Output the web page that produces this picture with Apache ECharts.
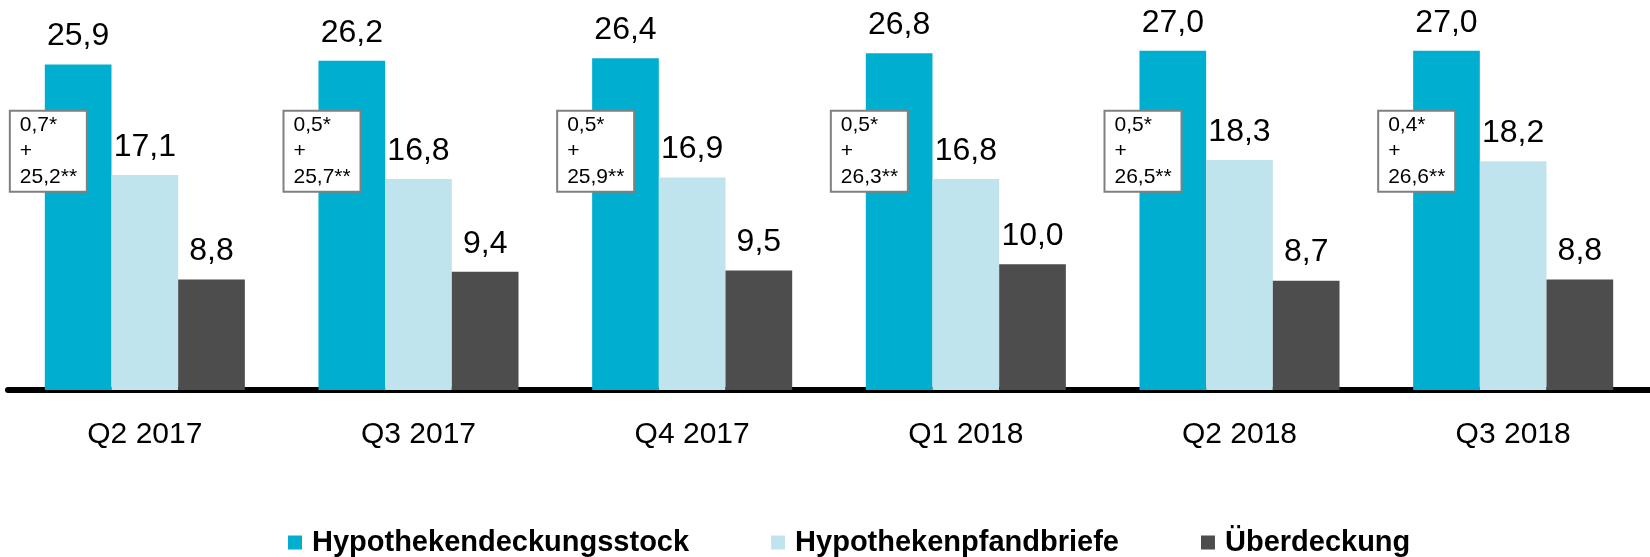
<!DOCTYPE html>
<html>
<head>
<meta charset="utf-8">
<style>
  html, body { margin: 0; padding: 0; background: #fff; }
  #chart { width: 1650px; height: 557px; }
</style>
<script src="https://cdn.jsdelivr.net/npm/echarts@6/dist/echarts.min.js"></script>
</head>
<body>
<div id="chart"></div>
<script>
const categories = ['Q2 2017', 'Q3 2017', 'Q4 2017', 'Q1 2018', 'Q2 2018', 'Q3 2018']
const deckungsstock = [25.9, 26.2, 26.4, 26.8, 27.0, 27.0]
const pfandbriefe = [17.1, 16.8, 16.9, 16.8, 18.3, 18.2]
const ueberdeckung = [8.8, 9.4, 9.5, 10.0, 8.7, 8.8]
// split of the cover pool shown in the little boxes
const splitStar = [0.7, 0.5, 0.5, 0.5, 0.5, 0.4]
const splitDoubleStar = [25.2, 25.7, 25.9, 26.3, 26.5, 26.6]

const FONT = "'Liberation Sans', Arial, sans-serif"
const boxLevel = 19.0 // y value where the boxes sit

const fmt = v => v.toFixed(1).replace('.', ',')

const chart = echarts.init(document.getElementById('chart'))

const valueLabel = {
  show: true,
  position: 'top',
  distance: 12,
  fontFamily: FONT,
  fontSize: 32,
  color: '#000',
  formatter: p => fmt(p.value)
}

chart.setOption({
  animation: false,
  textStyle: { fontFamily: FONT },
  grid: { left: 8, right: -7, top: 13, bottom: 167 },
  legend: {
    data: ['Hypothekendeckungsstock', 'Hypothekenpfandbriefe', 'Überdeckung'],
    left: 283,
    top: 523,
    icon: 'rect',
    itemWidth: 14,
    itemHeight: 14,
    itemGap: 82,
    textStyle: { fontFamily: FONT, fontSize: 29, fontWeight: 'bold', color: '#000', padding: [0, 0, 0, 5] }
  },
  xAxis: {
    type: 'category',
    data: categories,
    offset: 2.5,
    axisTick: { show: false },
    axisLine: { lineStyle: { color: '#000', width: 6 } },
    axisLabel: { fontFamily: FONT, fontSize: 30, color: '#000', margin: 27 }
  },
  yAxis: {
    type: 'value',
    min: 0,
    max: 30,
    show: false,
    splitLine: { show: false }
  },
  series: [
    {
      name: 'Hypothekendeckungsstock',
      type: 'bar',
      data: deckungsstock,
      barGap: '0%',
      barCategoryGap: '26.9%',
      itemStyle: { color: '#00AFCF' },
      label: valueLabel
    },
    {
      name: 'Hypothekenpfandbriefe',
      type: 'bar',
      data: pfandbriefe,
      itemStyle: { color: '#C0E4EE' },
      label: valueLabel
    },
    {
      name: 'Überdeckung',
      type: 'bar',
      data: ueberdeckung,
      itemStyle: { color: '#4D4D4D' },
      label: valueLabel
    },
    {
      name: 'split',
      type: 'scatter',
      symbolSize: 0,
      z: 5,
      silent: true,
      itemStyle: { opacity: 1 },
      data: categories.map(c => [c, boxLevel]),
      label: {
        show: true,
        position: 'inside',
        align: 'left',
        verticalAlign: 'middle',
        offset: [-134, 0],
        width: 60,
        padding: [1, 6, 0, 9],
        lineHeight: 26,
        fontFamily: FONT,
        fontSize: 21,
        color: '#000',
        opacity: 1,
        backgroundColor: '#fff',
        borderColor: '#808080',
        borderWidth: 2,
        formatter: p => fmt(splitStar[p.dataIndex]) + '*\n+\n' + fmt(splitDoubleStar[p.dataIndex]) + '**'
      }
    }
  ]
})
</script>
</body>
</html>
